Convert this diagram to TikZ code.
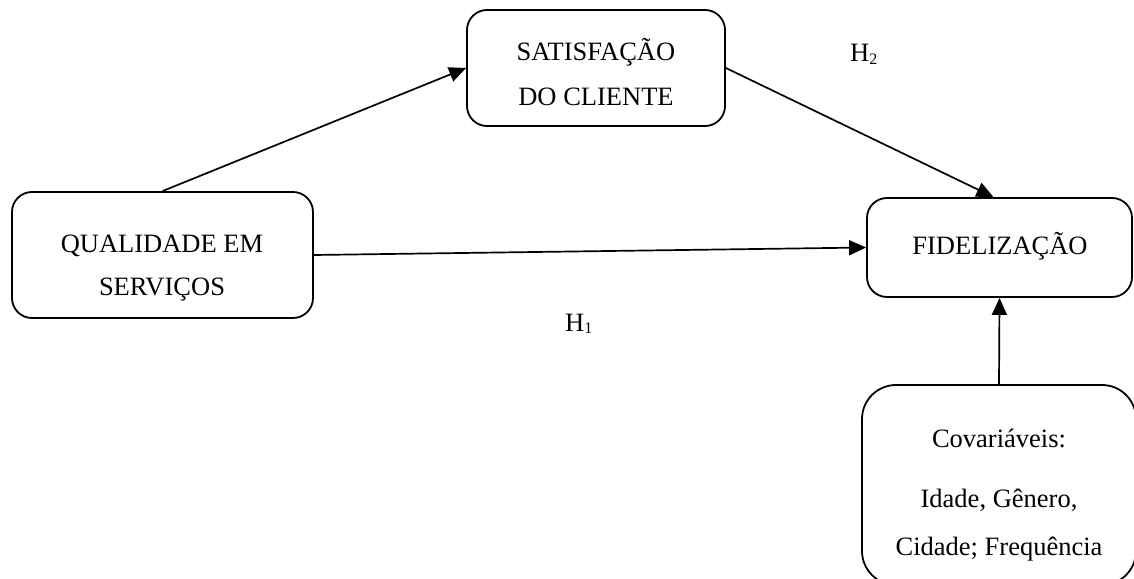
\documentclass[tikz,border=0pt]{standalone}
\usepackage{fontspec}
\setmainfont{Liberation Serif}
\usetikzlibrary{arrows.meta}

\tikzset{
  box/.style={draw, line width=1.8pt, rounded corners=20pt, inner sep=0pt},
  lbl/.style={anchor=base, inner sep=0pt, font=\fontsize{26.5}{30}\selectfont},
  link/.style={line width=1.7pt, -{Triangle[length=17pt,width=15pt]}},
}
\newcommand{\hsub}[1]{H\raisebox{-2pt}{\fontsize{16}{16}\selectfont #1}}

\begin{document}
\begin{tikzpicture}[x=1pt,y=-1pt]
  \useasboundingbox (0,0) rectangle (1134,578);
  \clip (0,0) rectangle (1134,578);
  \fill[white] (0,0) rectangle (1134,578);

  % boxes
  \node[box, minimum width=258pt, minimum height=116pt] (sat) at (596,68) {};
  \node[box, minimum width=301pt, minimum height=126pt] (qual) at (162.5,255) {};
  \node[box, minimum width=265pt, minimum height=99pt] (fid) at (999.5,247.5) {};
  \node[box, rounded corners=34pt, minimum width=274pt, minimum height=200pt] (cov) at (999,485) {};

  % labels
  \node[lbl] (sat1) at (596,60) {SATISFAÇÃO};
  \node[lbl] (sat2) at (596,105) {DO CLIENTE};
  \node[lbl] (qual1) at (162,252) {QUALIDADE EM};
  \node[lbl] (qual2) at (162,295) {SERVIÇOS};
  \node[lbl] (fid1) at (1000,254) {FIDELIZAÇÃO};
  \node[lbl] (cov1) at (999,447) {Covariáveis:};
  \node[lbl] (cov2) at (999,507) {Idade, Gênero,};
  \node[lbl] (cov3) at (999,555) {Cidade; Frequência};
  \node[lbl, anchor=base west] (h2) at (850,62) {\hsub{2}};
  \node[lbl, anchor=base west] (h1) at (565,331) {\hsub{1}};

  % connectors
  \draw[link] (qual.north) -- (sat.west);
  \draw[link] (sat.east) -- ([xshift=-6pt]fid.north);
  \draw[link] (qual.east) -- (fid.west);
  \draw[link] (cov.north) -- (fid.south);
\end{tikzpicture}
\end{document}
